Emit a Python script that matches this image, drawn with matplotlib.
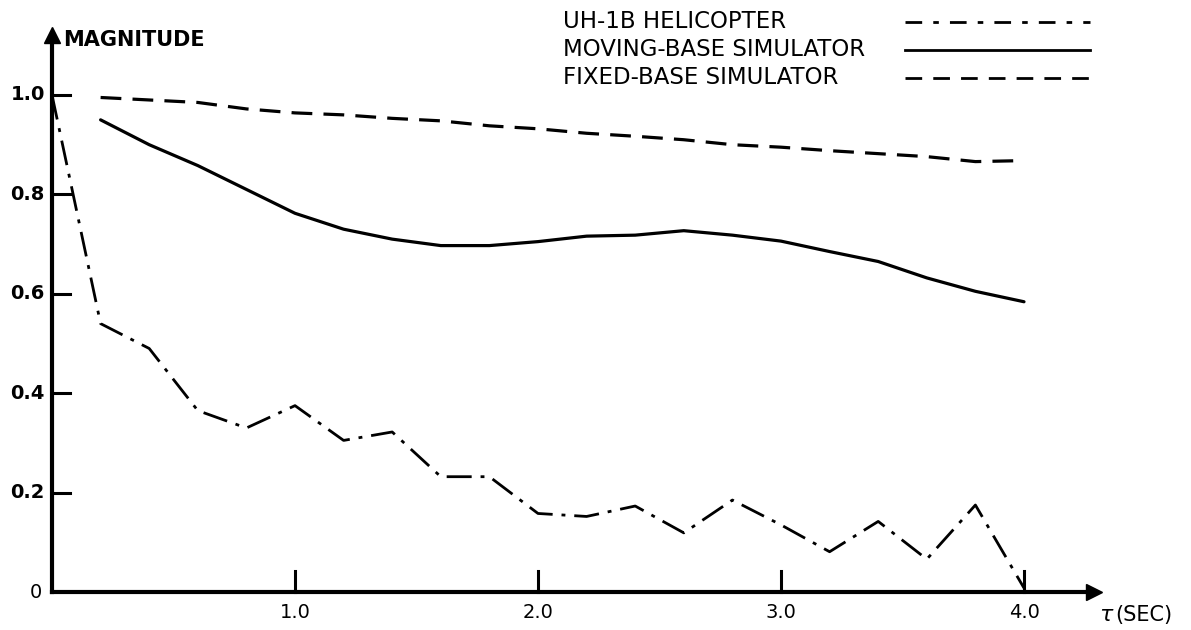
import numpy as np
import matplotlib.pyplot as plt
from matplotlib.lines import Line2D

# time lag tau (sec)
tau = [0.2, 0.4, 0.6, 0.8, 1.0, 1.2, 1.4, 1.6, 1.8, 2.0,
       2.2, 2.4, 2.6, 2.8, 3.0, 3.2, 3.4, 3.6, 3.8, 4.0]

# UH-1B helicopter starts at 1.0 for tau = 0
heli_tau = [0.0] + tau
heli_mag = [1.0, 0.54, 0.49, 0.365, 0.33, 0.375, 0.305, 0.322, 0.232, 0.232, 0.158,
            0.152, 0.173, 0.119, 0.185, 0.135, 0.081, 0.142, 0.066, 0.175, 0.008]

moving_mag = [0.95, 0.90, 0.858, 0.81, 0.762, 0.73, 0.71, 0.697, 0.697, 0.705,
              0.716, 0.718, 0.727, 0.718, 0.706, 0.685, 0.665, 0.632, 0.605, 0.584]

fixed_mag = [0.995, 0.99, 0.985, 0.972, 0.964, 0.96, 0.953, 0.948, 0.938, 0.932,
             0.923, 0.917, 0.91, 0.90, 0.895, 0.888, 0.882, 0.876, 0.866, 0.868]

yticks = [0.2, 0.4, 0.6, 0.8, 1.0]
xticks = [1.0, 2.0, 3.0, 4.0]

W, H = 1191, 630
fig = plt.figure(figsize=(W / 100, H / 100), dpi=100)

# axes placed in pixels: origin at (52, 592), 243 px per sec, 497 px per unit
x0, y0, sx, sy = 52, 592, 243, 497
xmax, ymax = 4.4, 1.15
ax = fig.add_axes([x0 / W, (H - y0) / H, xmax * sx / W, ymax * sy / H])
ax.set_xlim(0, xmax)
ax.set_ylim(0, ymax)
ax.axis('off')

fnt = dict(family='DejaVu Sans', color='black')
lw = 2.3
dashdot = (9, 3.2, 1.4, 3.2)
dashed = (6.5, 3.5)

ax.plot(heli_tau, heli_mag, color='black', lw=2.0, dashes=dashdot, clip_on=False)
ax.plot(tau, moving_mag, color='black', lw=lw, solid_capstyle='round')
ax.plot(tau, fixed_mag, color='black', lw=lw, dashes=dashed)

# axes with arrow heads
ax.plot([0, 0], [0, 1.1], color='black', lw=3.0, clip_on=False)
ax.plot([0, 4.27], [0, 0], color='black', lw=3.0, clip_on=False)
ax.plot([0], [1.12], marker='^', ms=12, color='black', clip_on=False)
ax.plot([4.29], [0], marker='>', ms=12, color='black', clip_on=False)

# tick marks and labels
for v in yticks:
    ax.plot([0, 0.075], [v, v], color='black', lw=2.2, clip_on=False)
    ax.text(-0.03, v, f'{v:.1f}', ha='right', va='center', fontsize=14,
            fontweight='bold', **fnt)
ax.text(-0.04, 0, '0', ha='right', va='center', fontsize=14, **fnt)
for t in xticks:
    ax.plot([t, t], [0, 0.042], color='black', lw=2.2, clip_on=False)
    ax.text(t, -0.042, f'{t:.1f}', ha='center', va='center', fontsize=14, **fnt)

ax.text(0.045, 1.11, 'MAGNITUDE', ha='left', va='center', fontsize=15,
        fontweight='bold', **fnt)
ax.text(4.31, -0.047, r'$\tau$', ha='left', va='center', fontsize=16, **fnt)
ax.text(4.375, -0.047, '(SEC)', ha='left', va='center', fontsize=15, **fnt)

# legend drawn as text plus sample lines
leg = [('UH-1B HELICOPTER', dict(lw=2.0, dashes=(6, 4, 2, 4)), 22),
       ('MOVING-BASE SIMULATOR', dict(lw=2.0), 50),
       ('FIXED-BASE SIMULATOR', dict(lw=2.0, dashes=(6, 4)), 78)]
for label, style, ypx in leg:
    fy = (H - ypx) / H
    fig.text(563 / W, fy, label, ha='left', va='center', fontsize=16.5, **fnt)
    fig.add_artist(Line2D([905 / W, 1090 / W], [fy, fy], color='black', **style))

fig.savefig('out.png', dpi=100, facecolor='white')
